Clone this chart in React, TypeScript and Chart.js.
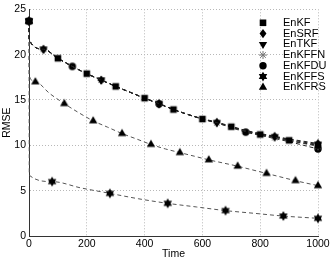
import React, { useEffect, useRef } from "react";
import { Chart, registerables } from "chart.js";

Chart.register(...registerables);

// ---- data ----
const seriesNames = ["EnKF", "EnSRF", "EnTKF", "EnKFFN", "EnKFDU", "EnKFFS", "EnKFRS"];

const timeMain = [0, 1, 50, 100, 150, 200, 250, 300, 350, 400, 450, 500, 550, 600, 650, 700, 750, 800, 850, 900, 950, 1000];
const enkf = [23.7, 21.6, 20.6, 19.6, 18.7, 17.9, 17.2, 16.5, 15.85, 15.2, 14.6, 13.95, 13.4, 12.9, 12.5, 12.05, 11.55, 11.2, 10.9, 10.55, 10.25, 10.0];
const ensrf = [23.7, 21.6, 20.6, 19.6, 18.7, 17.9, 17.2, 16.5, 15.85, 15.2, 14.6, 13.95, 13.4, 12.95, 12.55, 12.1, 11.65, 11.3, 11.0, 10.7, 10.45, 10.2];
const entkf = [23.7, 21.6, 20.6, 19.6, 18.7, 17.9, 17.2, 16.5, 15.85, 15.2, 14.6, 13.95, 13.4, 12.9, 12.5, 12.05, 11.6, 11.25, 10.95, 10.65, 10.35, 10.1];
const enkffn = [23.7, 21.6, 20.6, 19.6, 18.7, 17.9, 17.2, 16.5, 15.85, 15.2, 14.6, 13.95, 13.4, 12.9, 12.5, 12.0, 11.55, 11.15, 10.85, 10.5, 10.2, 9.9];
const enkfdu = [23.7, 21.6, 20.6, 19.6, 18.7, 17.9, 17.2, 16.5, 15.85, 15.2, 14.55, 13.95, 13.4, 12.9, 12.45, 11.95, 11.45, 11.1, 10.75, 10.4, 10.0, 9.6];

const timeFS = [0, 1, 80, 180, 280, 380, 480, 580, 680, 780, 880, 1000];
const enkffs = [23.7, 6.7, 6.0, 5.3, 4.7, 4.1, 3.6, 3.2, 2.8, 2.5, 2.2, 1.95];

const timeRS = [0, 1, 22, 72, 122, 172, 222, 272, 322, 372, 422, 472, 522, 572, 622, 672, 722, 772, 822, 872, 922, 1000];
const enkfrs = [23.7, 17.7, 17.0, 15.7, 14.6, 13.6, 12.7, 12.0, 11.3, 10.7, 10.1, 9.6, 9.2, 8.8, 8.4, 8.05, 7.7, 7.3, 6.9, 6.5, 6.1, 5.55];

// marker times for each series
const markEnKF = [0, 100, 200, 300, 400, 500, 600, 700, 800, 900, 1000];
const markStarish = [0, 50, 250, 450, 650, 850, 1000];
const markEnKFDU = [0, 150, 450, 750, 1000];
const markEnKFFS = [0, 80, 280, 480, 680, 880, 1000];
const markEnKFRS = [0, 22, 122, 222, 322, 422, 522, 622, 722, 822, 922, 1000];

const xTicksMax = 1000;
const yTicksMax = 25;

const FONT = "'Liberation Sans', Arial, Helvetica, sans-serif";

type Kind = "rect" | "diamond" | "triDown" | "asterisk" | "circle" | "hex" | "tri";
const kinds: Kind[] = ["rect", "diamond", "triDown", "asterisk", "circle", "hex", "tri"];

function drawMarker(ctx: CanvasRenderingContext2D, kind: Kind, x: number, y: number) {
  ctx.save();
  ctx.fillStyle = "#000";
  ctx.strokeStyle = "#000";
  ctx.lineWidth = 1;
  ctx.beginPath();
  if (kind === "rect") {
    ctx.rect(x - 3.3, y - 3.3, 6.6, 6.6);
    ctx.fill();
  } else if (kind === "diamond") {
    const r = 4.6;
    ctx.moveTo(x, y - r); ctx.lineTo(x + r * 0.75, y); ctx.lineTo(x, y + r); ctx.lineTo(x - r * 0.75, y); ctx.closePath();
    ctx.fill();
  } else if (kind === "triDown" || kind === "tri") {
    const r = 4.8;
    const s = kind === "tri" ? -1 : 1;
    ctx.moveTo(x, y + s * r);
    ctx.lineTo(x + r * 0.866, y - s * r * 0.5);
    ctx.lineTo(x - r * 0.866, y - s * r * 0.5);
    ctx.closePath();
    ctx.fill();
  } else if (kind === "asterisk") {
    const r = 4;
    ctx.strokeStyle = "#777";
    for (let k = 0; k < 4; k++) {
      const a = (k * Math.PI) / 4;
      ctx.moveTo(x - Math.cos(a) * r, y - Math.sin(a) * r);
      ctx.lineTo(x + Math.cos(a) * r, y + Math.sin(a) * r);
    }
    ctx.stroke();
  } else if (kind === "circle") {
    ctx.arc(x, y, 3.7, 0, Math.PI * 2);
    ctx.fill();
  } else if (kind === "hex") {
    const R = 4.9, r = R / Math.sqrt(3);
    for (let k = 0; k < 12; k++) {
      const a = -Math.PI / 2 + (k * Math.PI) / 6;
      const rr = k % 2 === 0 ? R : r;
      const px = x + Math.cos(a) * rr, py = y + Math.sin(a) * rr;
      if (k === 0) ctx.moveTo(px, py); else ctx.lineTo(px, py);
    }
    ctx.closePath();
    ctx.fill();
  }
  ctx.restore();
}

function makeMarkerCanvas(kind: Kind) {
  const c = document.createElement("canvas");
  c.width = 12; c.height = 12;
  const g = c.getContext("2d")!;
  drawMarker(g, kind, 6, 6);
  return c;
}

const legendPlugin = {
  id: "matlabLegend",
  afterDatasetsDraw(chart: any) {
    const ctx: CanvasRenderingContext2D = chart.ctx;
    const area = chart.chartArea;
    ctx.save();
    ctx.font = `11px ${FONT}`;
    ctx.textBaseline = "middle";
    ctx.textAlign = "left";
    ctx.fillStyle = "#000";
    seriesNames.forEach((name, i) => {
      const y = area.top + 13.5 + i * 10.75;
      drawMarker(ctx, kinds[i], area.right - 55, y);
      ctx.fillText(name, area.right - 35, y);
    });
    ctx.restore();
  },
};

export default function App() {
  const ref = useRef<HTMLCanvasElement>(null);
  useEffect(() => {
    if (!ref.current) return;
    const imgs = kinds.map((k) => makeMarkerCanvas(k));
    const pts = (t: number[], v: number[]) => t.map((x, i) => ({ x, y: v[i] }));
    const rad = (t: number[], m: number[]) => t.map((x) => (m.includes(x) ? 5 : 0));
    const mk = (label: string, t: number[], v: number[], m: number[], idx: number, color: string) => ({
      label,
      data: pts(t, v),
      showLine: true,
      borderColor: color,
      borderWidth: 1,
      borderDash: [4, 3],
      backgroundColor: "#000",
      pointStyle: imgs[idx],
      pointRadius: rad(t, m),
      pointHoverRadius: 0,
      cubicInterpolationMode: "monotone" as const,
      clip: false as any,
    });
    const chart = new Chart(ref.current, {
      type: "scatter",
      data: {
        datasets: [
          mk(seriesNames[0], timeMain, enkf, markEnKF, 0, "#222"),
          mk(seriesNames[1], timeMain, ensrf, markStarish, 1, "#222"),
          mk(seriesNames[2], timeMain, entkf, markStarish, 2, "#222"),
          mk(seriesNames[3], timeMain, enkffn, markStarish, 3, "#444"),
          mk(seriesNames[4], timeMain, enkfdu, markEnKFDU, 4, "#222"),
          mk(seriesNames[5], timeFS, enkffs, markEnKFFS, 5, "#555"),
          mk(seriesNames[6], timeRS, enkfrs, markEnKFRS, 6, "#555"),
        ] as any,
      },
      options: {
        animation: false,
        responsive: false,
        events: [],
        layout: { padding: { top: 7, right: 14, left: 0, bottom: 0 } },
        plugins: { legend: { display: false }, tooltip: { enabled: false } },
        scales: {
          x: {
            type: "linear",
            min: 0,
            max: xTicksMax,
            ticks: { stepSize: 200, color: "#000", padding: 2, font: { family: FONT, size: 10.5 }, maxRotation: 0, callback: (v: any) => String(v) },
            grid: { color: "#b8b8b8", lineWidth: 1, drawTicks: false },
            border: { display: true, color: "#333", width: 1, dash: [1, 2] },
            title: { display: true, text: "Time", color: "#000", font: { family: FONT, size: 10.5 }, padding: { top: 0, bottom: 2 } },
            afterFit: (s: any) => { s.height = 26; },
          },
          y: {
            type: "linear",
            min: 0,
            max: yTicksMax,
            ticks: { stepSize: 5, color: "#000", padding: 3, font: { family: FONT, size: 10.5 }, callback: (v: any) => String(v) },
            grid: { color: "#b8b8b8", lineWidth: 1, drawTicks: false },
            border: { display: true, color: "#333", width: 1, dash: [1, 2] },
            title: { display: true, text: "RMSE", color: "#000", font: { family: FONT, size: 10.5 }, padding: { top: 1, bottom: 0 } },
            afterFit: (s: any) => { s.width = 29; },
          },
        },
      },
      plugins: [legendPlugin],
    });
    return () => chart.destroy();
  }, []);
  return (
    <div style={{ position: "absolute", left: 0, top: 0, width: 332, height: 262, background: "#fff" }}>
      <canvas ref={ref} width={332} height={262} style={{ display: "block" }} />
    </div>
  );
}
